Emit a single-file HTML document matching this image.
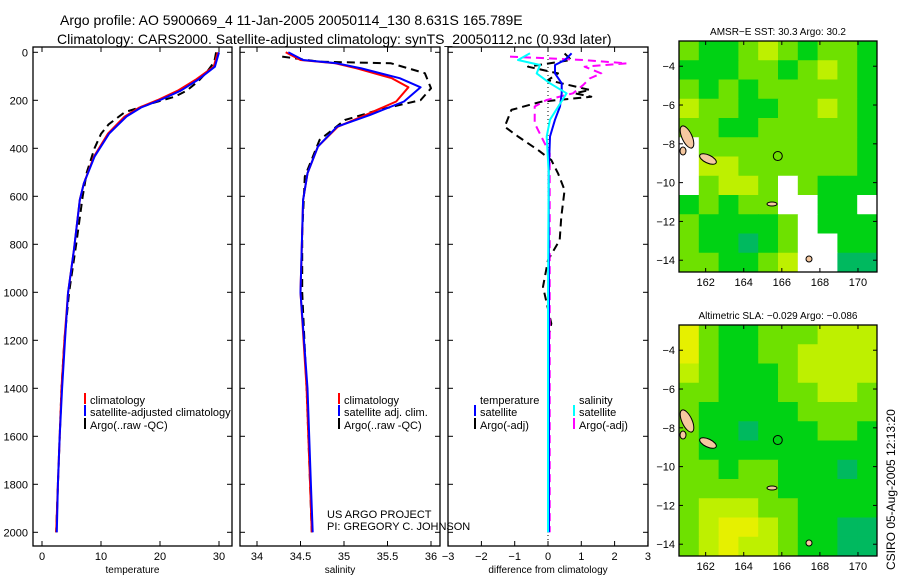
<!DOCTYPE html>
<html><head><meta charset="utf-8"><style>
body{margin:0;background:#fff;}
svg{display:block;font-family:"Liberation Sans",sans-serif;}
</style></head><body>
<svg id="c" width="900" height="580" viewBox="0 0 900 580">
<text x="60" y="25" font-size="14">Argo profile: AO 5900669_4 11-Jan-2005 20050114_130 8.631S 165.789E</text>
<text x="57" y="44" font-size="14">Climatology: CARS2000. Satellite-adjusted climatology: synTS_20050112.nc (0.93d later)</text>
<text x="327" y="518" font-size="11">US ARGO PROJECT</text>
<text x="327" y="530" font-size="11">PI: GREGORY C. JOHNSON</text>
<text transform="translate(895,570) rotate(-90)" font-size="12">CSIRO 05-Aug-2005 12:13:20</text>
</svg>
<script>
// depth grids
const depthT = [0,60,115,160,199,230,268,338,435,546,615,824,1004,1200,1400,1600,1800,2000];
const tempClim = [29.8,29.1,26.0,23.0,19.6,16.5,14.0,11.2,8.8,7.1,6.4,5.4,4.4,3.8,3.3,3.0,2.7,2.4];
const tempSat = [30.0,29.3,26.4,23.5,20.0,16.8,14.3,11.4,8.9,7.1,6.4,5.4,4.4,3.9,3.4,3.0,2.7,2.5];
const depthTA = [0,40,80,120,160,185,210,250,300,340,400,500,600,800,1000,1200,1400,1600,1800,2000];
const tempArgo = [29.5,29.2,28.0,26.5,24.5,22.5,19.0,14.0,11.3,10.0,8.9,7.6,6.9,5.8,4.6,3.8,3.3,3.0,2.7,2.4];

const depthS = [0,32,46,67,108,146,205,261,310,393,504,615,1000,1400,1800,2000];
const salClim = [34.33,34.5,34.9,35.15,35.55,35.74,35.6,35.25,34.93,34.7,34.58,34.53,34.5,34.57,34.61,34.63];
const salSat = [34.36,34.53,34.92,35.2,35.64,35.88,35.69,35.3,34.92,34.7,34.58,34.53,34.5,34.58,34.62,34.64];
const depthSA = [18,39,46,87,150,199,240,282,365,518,754,1000,1400,1800,2000];
const salArgo = [34.29,34.72,35.54,35.93,36.0,35.88,35.4,35.01,34.72,34.55,34.52,34.52,34.57,34.61,34.63];

const depthD = [4,32,53,88,129,171,226,281,351,504,1000,1500,2000];
const diffTSat = [0.71,0.51,0.21,0.21,0.41,0.41,0.36,0.21,0.06,0.02,0.03,0.03,0.03];
const diffSSat = [-0.54,-0.9,-0.24,-0.34,0.06,0.56,0.31,0.06,-0.04,0.02,0.0,0.0,0.0];
const depthDA = [5,32,60,88,116,157,171,185,206,240,310,351,407,449,504,574,685,782,866,977,1130,1200,1500,2000];
const diffTArgo = [0.5,0.7,-0.6,0.3,0.0,1.26,0.8,1.3,-0.2,-1.1,-1.3,-0.9,-0.3,0.1,0.3,0.5,0.4,0.35,0.0,-0.15,0.1,0.0,0.0,0.0];
const depthDM = [18,32,46,60,88,109,137,171,199,226,296,351,421,600,1000,2000];
const diffSArgo = [-1.14,1.05,2.36,1.1,1.6,1.25,1.05,0.75,-0.05,-0.4,-0.4,-0.2,0.05,0.05,0.05,0.05];

const depthTicks = [0,200,400,600,800,1000,1200,1400,1600,1800,2000];
const tempTicks = [0,10,20,30];
const salTicks = [34,34.5,35,35.5,36];
const salTickLabels = ["34","34.5","35","35.5","36"];
const diffTicks = [-3,-2,-1,0,1,2,3];

const latTicks = [-4,-6,-8,-10,-12,-14];
const lonTicks = [162,164,166,168,170];
// map values: -1 white (no data), 0 teal .. 4 yellow ; rows from north (-2.7) to south
const sstGrid = [
[2,1,1,2,3,2,1,2,2,1],[1,1,1,2,2,1,2,3,2,1],[2,1,2,1,2,2,2,2,2,1],[3,2,2,1,1,2,2,3,2,1],
[2,2,1,1,2,2,2,2,2,1],[-1,2,2,2,2,2,2,2,2,1],[-1,3,3,2,2,2,2,2,2,1],[-1,2,3,3,2,-1,2,1,1,1],
[1,2,1,2,2,-1,-1,1,1,-1],[2,1,1,1,1,2,-1,1,1,1],[2,1,1,0,1,2,-1,-1,1,1],[2,2,1,1,2,3,-1,-1,0,0]];
const slaGrid = [
[4,2,1,1,2,2,2,3,3,3],[4,2,1,1,2,2,3,3,3,3],[3,2,1,1,1,2,3,3,3,3],[2,2,1,1,1,2,2,3,3,2],
[2,1,1,1,1,1,2,2,2,2],[2,1,1,0,1,1,1,2,2,1],[2,1,1,1,1,1,1,1,1,1],[2,2,1,2,2,1,1,1,0,1],
[2,2,2,2,2,1,1,1,1,1],[2,3,3,3,2,2,1,1,1,1],[2,3,4,4,3,2,1,1,0,0],[2,3,4,3,3,2,1,1,0,0]];
const argoLon = 165.789, argoLat = -8.631;

const NS="http://www.w3.org/2000/svg";
const svg=document.getElementById('c');
function mk(tag,attrs,parent){const e=document.createElementNS(NS,tag);for(const k in attrs)e.setAttribute(k,attrs[k]);(parent||svg).appendChild(e);return e;}

const Y0=52.3, YS=0.24, PT=47, PB=546;
const yD=d=>Y0+d*YS;
const panels=[
 {x0:33,x1:232,sx:v=>42+v*5.9,ticks:tempTicks,labels:tempTicks.map(String),title:"temperature",name:"temperature-panel"},
 {x0:240,x1:440,sx:v=>257+(v-34)*87,ticks:salTicks,labels:salTickLabels,title:"salinity",name:"salinity-panel"},
 {x0:448,x1:648,sx:v=>548+v*33.3,ticks:diffTicks,labels:diffTicks.map(v=>v<0?"\u2212"+(-v):String(v)),title:"difference from climatology",name:"difference-panel"}
];
panels.forEach((p,i)=>{
 const g=mk('g',{});
 
 
 const r=mk('rect',{x:p.x0,y:PT,width:p.x1-p.x0,height:PB-PT,fill:'none',stroke:'#000','stroke-width':1.3},g);
 
 
 depthTicks.forEach(d=>{
  const y=yD(d);
  mk('line',{x1:p.x0,x2:p.x0+5,y1:y,y2:y,stroke:'#000'},g);
  mk('line',{x1:p.x1,x2:p.x1-5,y1:y,y2:y,stroke:'#000'},g);
  if(i===0){const t=mk('text',{x:28,y:y+4,'font-size':11,'text-anchor':'end'},g);t.textContent=d;
   
   }
 });
 p.ticks.forEach((v,k)=>{
  const x=p.sx(v);
  mk('line',{x1:x,x2:x,y1:PB,y2:PB-5,stroke:'#000'},g);
  mk('line',{x1:x,x2:x,y1:PT,y2:PT+5,stroke:'#000'},g);
  const t=mk('text',{x:x,y:560,'font-size':11,'text-anchor':'middle'},g);t.textContent=p.labels[k];
  
  
 });
 const tt=mk('text',{x:(p.x0+p.x1)/2,y:573,'font-size':10,'text-anchor':'middle'},g);tt.textContent=p.title;
 
 
});
function line(p,depths,vals,color,dash,w,name){
 const pts=depths.map((d,k)=>p.sx(vals[k]).toFixed(1)+','+yD(d).toFixed(1)).join(' ');
 const e=mk('polyline',{points:pts,fill:'none',stroke:color,'stroke-width':w,'stroke-dasharray':dash||'none','stroke-linejoin':'round'});
 
 
}
// zero line
const z=mk('line',{x1:548,x2:548,y1:PT,y2:PB,stroke:'#000','stroke-dasharray':'1,3'});


line(panels[0],depthTA,tempArgo,'#000','8,5',2,'temp-argo-line');
line(panels[0],depthT,tempClim,'#f00','',2,'temp-climatology-line');
line(panels[0],depthT,tempSat,'#00f','',2,'temp-satellite-line');
line(panels[1],depthSA,salArgo,'#000','8,5',2,'sal-argo-line');
line(panels[1],depthS,salClim,'#f00','',2,'sal-climatology-line');
line(panels[1],depthS,salSat,'#00f','',2,'sal-satellite-line');
line(panels[2],depthDA,diffTArgo,'#000','8,5',2,'diff-temp-argo-line');
line(panels[2],depthDM,diffSArgo,'#f0f','8,5',2,'diff-sal-argo-line');
line(panels[2],depthD,diffTSat,'#00f','',2,'diff-temp-satellite-line');
line(panels[2],depthD,diffSSat,'#0ff','',2,'diff-sal-satellite-line');

// legends
function leg(x,y,color,text){
 const g=mk('g',{});
 
 
 if(color)mk('rect',{x:x,y:y-7,width:2,height:11,fill:color},g);
 const t=mk('text',{x:x+6,y:y+4,'font-size':11},g);t.textContent=text;
}
leg(84,400,'#f00','climatology');leg(84,412,'#00f','satellite-adjusted climatology');leg(84,425,'#000','Argo(..raw -QC)');
leg(338,400,'#f00','climatology');leg(338,412,'#00f','satellite adj. clim.');leg(338,425,'#000','Argo(..raw -QC)');
leg(474,400,null,'temperature');leg(474,412,'#00f','satellite');leg(474,425,'#000','Argo(-adj)');
leg(573,400,null,'salinity');leg(573,412,'#0ff','satellite');leg(573,425,'#f0f','Argo(-adj)');

// maps
const cols=['#00b95f','#00d214','#6ee100','#bef000','#e6f000'];
function map(top,grid,title,name){
 const X0=679,X1=877,Y1=top+231;
 const lonX=l=>X0+(l-160.6)*19.04, latY=a=>top+(-2.7-a)*19.4;
 const g=mk('g',{});
 
 
 const cw=(X1-X0)/10,ch=(Y1-top)/12;
 grid.forEach((row,ri)=>row.forEach((v,ci)=>{
  const c=mk('rect',{x:X0+ci*cw,y:top+ri*ch,width:cw+0.5,height:ch+0.5,fill:v<0?'#fff':cols[v]},g);
  
  
 }));
 // islands
 [[687,top+96,5,12,-25],[708,top+118,9,4,25],[683,top+110,3,4,0],[772,top+163,5,2,0],[809,top+232-14,3,3,0]].forEach(s=>{
  const e=mk('ellipse',{cx:s[0],cy:s[1],rx:s[2],ry:s[3],fill:'#f5c8a0',stroke:'#000','stroke-width':1,transform:`rotate(${s[4]} ${s[0]} ${s[1]})`},g);
  
  
 });
 const ci=mk('circle',{cx:lonX(argoLon),cy:latY(argoLat),r:4.5,fill:'none',stroke:'#000','stroke-width':1},g);
 
 
 mk('rect',{x:X0,y:top,width:X1-X0,height:Y1-top,fill:'none',stroke:'#000','stroke-width':1.3},g);
 latTicks.forEach(a=>{const y=latY(a);mk('line',{x1:X0,x2:X0+4,y1:y,y2:y,stroke:'#000'},g);mk('line',{x1:X1,x2:X1-4,y1:y,y2:y,stroke:'#000'},g);
  const t=mk('text',{x:X0-4,y:y+4,'font-size':11,'text-anchor':'end'},g);t.textContent='\u2212'+(-a);
  
  });
 lonTicks.forEach(l=>{const x=lonX(l);mk('line',{x1:x,x2:x,y1:Y1,y2:Y1-4,stroke:'#000'},g);mk('line',{x1:x,x2:x,y1:top,y2:top+4,stroke:'#000'},g);
  const t=mk('text',{x:x,y:Y1+14,'font-size':11,'text-anchor':'middle'},g);t.textContent=l;
  
  });
 const t=mk('text',{x:(X0+X1)/2,y:top-6,'font-size':10,'text-anchor':'middle'},g);t.textContent=title;
 
 
}
map(41,sstGrid,'AMSR\u2212E SST: 30.3 Argo: 30.2','sst-map');
map(325,slaGrid,'Altimetric SLA: \u22120.029 Argo: \u22120.086','sla-map');
</script>
</body></html>
